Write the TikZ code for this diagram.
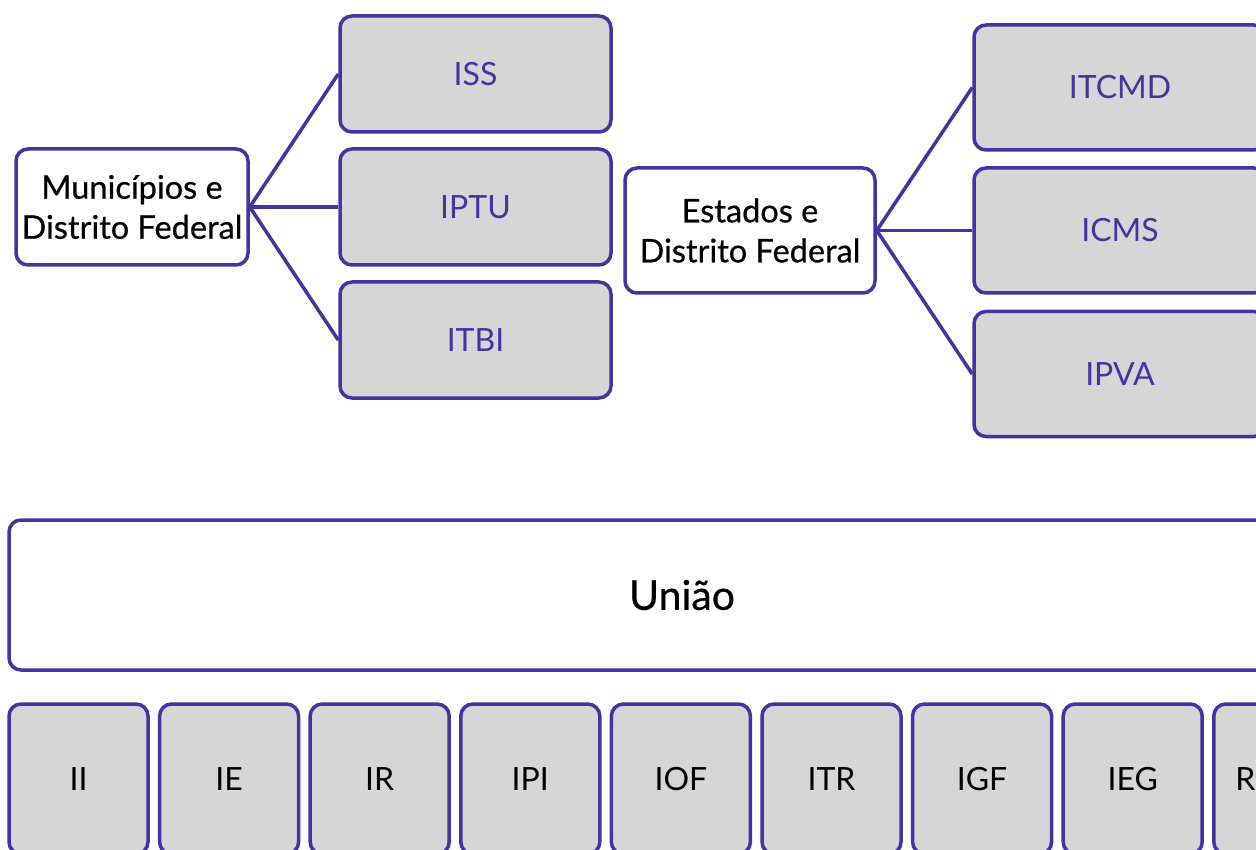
\documentclass[tikz,border=0pt]{standalone}
\usepackage{fontspec}
\setmainfont{Lato}
\newfontfamily\medio[FakeBold=0.6]{Lato}
\usetikzlibrary{positioning}
\definecolor{roxo}{RGB}{68,51,160}
\definecolor{cinza}{RGB}{214,214,214}
\tikzstyle{ente}=[draw=roxo, line width=3.5pt, rounded corners=12pt, fill=white, align=center, inner sep=0pt, font=\medio\fontsize{32.5}{40}\selectfont]
\tikzstyle{imposto}=[draw=roxo, line width=3.5pt, rounded corners=12pt, fill=cinza, inner sep=0pt, text=roxo, font=\fontsize{32}{36}\selectfont]
\tikzstyle{federal}=[imposto, text=black, minimum width=139pt, minimum height=150pt]
\tikzstyle{ramo}=[draw=roxo, line width=3.5pt]

\begin{document}
\begin{tikzpicture}[x=1pt, y=-1pt]
\useasboundingbox (0,0) rectangle (1256,850);
\clip (0,0) rectangle (1256,850);
% municipios
\node[ente, minimum width=232pt, minimum height=116pt] (mun) at (132,207) {Municípios e\\Distrito Federal};
\foreach \n/\y in {ISS/74, IPTU/207, ITBI/340} {
 \node[imposto, minimum width=271pt, minimum height=116pt] (\n) at (475.5,\y) {\n};
 \draw[ramo] (mun.east) -- (\n.west);
}
% estados
\node[ente, minimum width=250pt, minimum height=125pt] (est) at (750,230.5) {Estados e\\Distrito Federal};
\foreach \n/\y in {ITCMD/87.5, ICMS/230.5, IPVA/374} {
 \node[imposto, minimum width=292pt, minimum height=125pt] (\n) at (1120,\y) {\n};
 \draw[ramo] (est.east) -- (\n.west);
}
% uniao
\node[ente, minimum width=1346pt, minimum height=150pt, font=\medio\fontsize{41}{44}\selectfont] (uni) at (682,595) {União};
\foreach \i/\n in {0/II, 1/IE, 2/IR, 3/IPI, 4/IOF, 5/ITR, 6/IGF, 7/IEG} {
 \node[federal] (f\i) at (78.5+150.6*\i,779) {\n};
}
\node[federal] (f8) at (78.5+150.6*8,779) {};
\node[anchor=west, inner sep=0pt, font=\fontsize{32}{36}\selectfont] (res) at ([xshift=23pt]f8.west) {R};
\end{tikzpicture}
\end{document}
